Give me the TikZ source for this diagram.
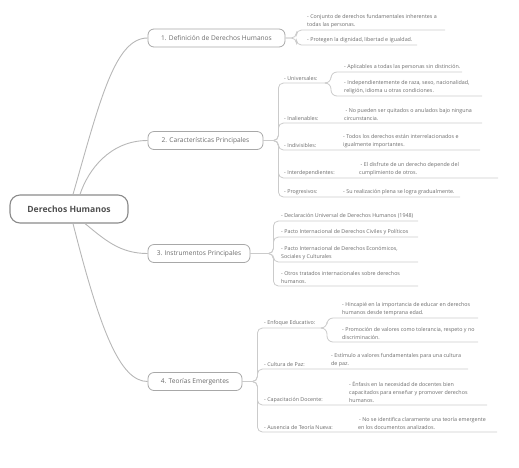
\documentclass[tikz,border=0pt]{standalone}
\usepackage{fontspec}
\setmainfont{Open Sans}
\definecolor{txt}{HTML}{6A6A6A}
\definecolor{ln}{HTML}{CBCBCB}
\definecolor{bd}{HTML}{A8A8A8}
\definecolor{rootbd}{HTML}{8A8A8A}
\definecolor{roottxt}{HTML}{505050}
\tikzset{
  rootbox/.style={draw=rootbd, line width=1.1pt, rounded corners=10pt, minimum width=118pt, minimum height=28pt, inner sep=0pt, text=roottxt, font=\fontsize{8.6}{10}\selectfont\bfseries},
  brbox/.style={draw=bd, line width=0.8pt, rounded corners=6pt, minimum height=18pt, inner sep=0pt, text=txt, font=\fontsize{6.6}{8}\selectfont},
  leaf/.style={anchor=south west, inner xsep=0pt, inner ysep=2.4pt, align=left, text=txt, font=\fontsize{5.35}{7.9}\selectfont},
  main/.style={draw=ln!90!black, line width=0.9pt},
  conn/.style={draw=ln, line width=0.8pt, rounded corners=5pt},
}
\begin{document}
\begin{tikzpicture}[x=1pt,y=-1pt]
\useasboundingbox (0,0) rectangle (519,467);
% root and branches
\node[rootbox] (root) at (69,209) {Derechos Humanos};
\node[brbox, minimum width=137pt] (b1) at (216.5,38) {1. Definición de Derechos Humanos};
\node[brbox, minimum width=115pt] (b2) at (205.5,140.5) {2. Características Principales};
\node[brbox, minimum width=102pt] (b3) at (199,253.5) {3. Instrumentos Principales};
\node[brbox, minimum width=94pt] (b4) at (195,381.5) {4. Teorías Emergentes};
\draw[main] ([xshift=4pt]root.north) .. controls (100,100) and (115,38) .. (b1.west);
\draw[main] ([xshift=11pt]root.north) .. controls (88,170) and (110,140.5) .. (b2.west);
\draw[main] ([xshift=16pt]root.south) .. controls (105,240) and (120,253.5) .. (b3.west);
\draw[main] ([xshift=4pt]root.south) .. controls (100,330) and (120,381.5) .. (b4.west);

% ---- branch 1
\node[leaf] (d1) at (307,30) {- Conjunto de derechos fundamentales inherentes a\\todas las personas.};
\node[leaf] (d2) at (307,45) {- Protegen la dignidad, libertad e igualdad.};
\coordinate (d1e) at (445,30);
\coordinate (d2e) at (417,45);
\draw[conn] (b1.east) -- ++(11,0) |- (d1e);
\draw[conn] (b1.east) -- ++(11,0) |- (d2e);

% ---- branch 2
\node[leaf] (univ) at (284,83) {- Universales:};
\coordinate (unive) at (327,83);
\node[leaf] (u1) at (344,72) {- Aplicables a todas las personas sin distinción.};
\node[leaf] (u2) at (344,96) {- Independientemente de raza, sexo, nacionalidad,\\religión, idioma u otras condiciones.};
\coordinate (u1e) at (462,72);
\coordinate (u2e) at (482,96);
\node[leaf] (inal) at (284,123) {- Inalienables:};
\node[leaf] (inalv) at (344,123) {\hspace{1.5pt}- No pueden ser quitados o anulados bajo ninguna\\circunstancia.};
\coordinate (inale) at (482,123);
\node[leaf] (indi) at (284,150) {- Indivisibles:};
\node[leaf] (indiv) at (343,150) {- Todos los derechos están interrelacionados e\\igualmente importantes.};
\coordinate (indie) at (480,150);
\node[leaf] (inter) at (284,178) {- Interdependientes:};
\node[leaf] (interv) at (359,178) {\hspace{1.5pt}- El disfrute de un derecho depende del\\cumplimiento de otros.};
\coordinate (intere) at (498,178);
\node[leaf] (prog) at (284,197) {- Progresivos:};
\node[leaf] (progv) at (343,197) {- Su realización plena se logra gradualmente.};
\coordinate (proge) at (460,197);
\draw[conn] (b2.east) -- ++(15,0) |- (unive);
\draw[conn] (b2.east) -- ++(15,0) |- (inale);
\draw[conn] (b2.east) -- ++(15,0) |- (indie);
\draw[conn] (b2.east) -- ++(15,0) |- (intere);
\draw[conn] (b2.east) -- ++(15,0) |- (proge);
\draw[conn, rounded corners=6pt] (unive) -- ++(4,0) |- (u1e);
\draw[conn, rounded corners=6pt] (unive) -- ++(4,0) |- (u2e);

% ---- branch 3
\node[leaf] (i1) at (281,221) {- Declaración Universal de Derechos Humanos (1948)};
\node[leaf] (i2) at (281,237) {- Pacto Internacional de Derechos Civiles y Políticos};
\node[leaf] (i3) at (281,262) {- Pacto Internacional de Derechos Económicos,\\Sociales y Culturales};
\node[leaf] (i4) at (281,286) {- Otros tratados internacionales sobre derechos\\humanos.};
\coordinate (i1e) at (418,221);
\coordinate (i2e) at (418,237);
\coordinate (i3e) at (418,262);
\coordinate (i4e) at (418,286);
\draw[conn] (b3.east) -- ++(23,0) |- (i1e);
\draw[conn] (b3.east) -- ++(23,0) |- (i2e);
\draw[conn] (b3.east) -- ++(23,0) |- (i3e);
\draw[conn] (b3.east) -- ++(23,0) |- (i4e);

% ---- branch 4
\node[leaf] (enf) at (264,328) {- Enfoque Educativo:};
\coordinate (enfe) at (323,328);
\node[leaf] (e1) at (342,318) {- Hincapié en la importancia de educar en derechos\\humanos desde temprana edad.};
\node[leaf] (e2) at (342,342) {- Promoción de valores como tolerancia, respeto y no\\discriminación.};
\coordinate (e1e) at (478,318);
\coordinate (e2e) at (478,342);
\node[leaf] (cult) at (264,369) {- Cultura de Paz:};
\node[leaf] (cultv) at (331,369) {- Estímulo a valores fundamentales para una cultura\\de paz.};
\coordinate (culte) at (468,369);
\node[leaf] (capa) at (264,405) {- Capacitación Docente:};
\node[leaf] (capav) at (349,405) {- Énfasis en la necesidad de docentes bien\\capacitados para enseñar y promover derechos\\humanos.};
\coordinate (capae) at (487,405);
\node[leaf] (aus) at (264,432) {- Ausencia de Teoría Nueva:};
\node[leaf] (ausv) at (358,432) {\hspace{1pt}- No se identifica claramente una teoría emergente\\en los documentos analizados.};
\coordinate (ause) at (497,432);
\draw[conn] (b4.east) -- ++(15,0) |- (enfe);
\draw[conn] (b4.east) -- ++(15,0) |- (culte);
\draw[conn] (b4.east) -- ++(15,0) |- (capae);
\draw[conn] (b4.east) -- ++(15,0) |- (ause);
\draw[conn, rounded corners=6pt] (enfe) -- ++(4,0) |- (e1e);
\draw[conn, rounded corners=6pt] (enfe) -- ++(4,0) |- (e2e);
\end{tikzpicture}
\end{document}
